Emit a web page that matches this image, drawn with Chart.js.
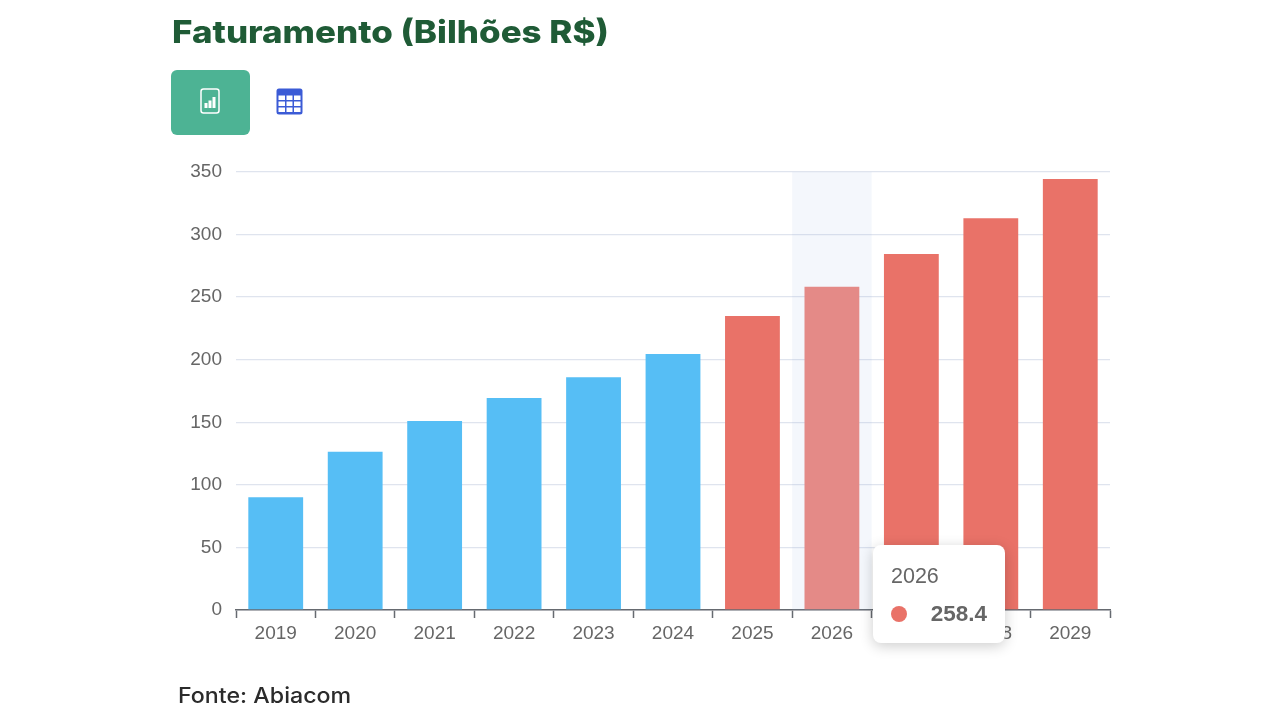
<!DOCTYPE html>
<html lang="pt">
<head>
<meta charset="utf-8">
<title>Faturamento (Bilhões R$)</title>
<script src="https://cdn.jsdelivr.net/npm/chart.js@4/dist/chart.umd.min.js"></script>
<style>
html,body{margin:0;padding:0;background:#fff;width:1280px;height:720px;overflow:hidden}
#wrap{position:relative;width:1280px;height:720px}
canvas{position:absolute;left:0;top:0}
#title{position:absolute;left:172px;top:12px;font:800 31.5px/40px Inter,sans-serif;color:#1f5b36;white-space:nowrap;transform-origin:0 50%;transform:scaleX(1.109)}
#btn{position:absolute;left:171px;top:70px;width:79px;height:65px;border-radius:6px;background:#4db394}
#btn svg{position:absolute;left:28px;top:18px}
#tbl{position:absolute;left:276px;top:88px}
#src{position:absolute;left:178px;top:682px;font:500 21px/28px Inter,sans-serif;color:#2b2b2b;white-space:nowrap;transform-origin:0 50%;transform:scaleX(1.105)}
#tip{position:absolute;background:#fff;border-radius:8px;box-shadow:0 3px 14px rgba(0,0,0,.2);width:132px;height:98px;font-family:"Liberation Sans",sans-serif;color:#666}
#tip .h{position:absolute;left:18px;top:18px;font-size:21.5px;line-height:26px}
#tip .d{position:absolute;left:18px;top:61px;width:16px;height:16px;border-radius:50%}
#tip .v{position:absolute;right:18px;top:56px;font-size:22.5px;line-height:26px;font-weight:700}
</style>
</head>
<body>
<div id="wrap">
  <canvas id="c" width="1280" height="720"></canvas>
  <div id="title">Faturamento (Bilhões R$)</div>
  <div id="btn"><svg width="22" height="26" viewBox="0 0 22 26" fill="none">
    <rect x="2" y="1" width="18" height="24" rx="2.5" stroke="#fff" stroke-width="1.5"/>
    <rect x="5.5" y="15" width="3" height="5" fill="#fff"/><rect x="9.5" y="12.5" width="3" height="7.5" fill="#fff"/><rect x="13.5" y="9" width="3" height="11" fill="#fff"/>
  </svg></div>
  <svg id="tbl" width="27" height="27" viewBox="0 0 27 27">
    <rect x="0.5" y="0.5" width="26" height="26" rx="2.5" fill="#3b5bd6"/>
    <g fill="#fff"><rect x="2.5" y="7.5" width="6.5" height="4.5"/><rect x="10.5" y="7.5" width="6" height="4.5"/><rect x="18" y="7.5" width="6.5" height="4.5"/>
    <rect x="2.5" y="13.5" width="6.5" height="4.5"/><rect x="10.5" y="13.5" width="6" height="4.5"/><rect x="18" y="13.5" width="6.5" height="4.5"/>
    <rect x="2.5" y="19.5" width="6.5" height="4.5"/><rect x="10.5" y="19.5" width="6" height="4.5"/><rect x="18" y="19.5" width="6.5" height="4.5"/></g>
  </svg>
  <div id="src">Fonte: Abiacom</div>
  <div id="tip" style="display:none"><div class="h"></div><div class="d"></div><div class="v"></div></div>
</div>
<script>
const categories = ['2019','2020','2021','2022','2023','2024','2025','2026','2027','2028','2029'];
const faturamento = [90, 126.5, 151, 169.5, 186, 204.5, 235, 258.4, 284.5, 313, 344.5];
const lastHistoricYear = '2024';
const activeYear = '2026';

const BLUE = '#56bef5', RED = '#e97268', RED_HOVER = '#e48a87';
const splitIndex = categories.indexOf(lastHistoricYear);
const activeIndex = categories.indexOf(activeYear);

const bandPlugin = {
  id: 'band',
  beforeDatasetsDraw(chart) {
    const x = chart.scales.x, a = chart.chartArea;
    const step = x.getPixelForValue(1) - x.getPixelForValue(0);
    const cx = x.getPixelForValue(activeIndex);
    const ctx = chart.ctx;
    ctx.save();
    ctx.fillStyle = 'rgba(150,177,228,0.10)';
    ctx.fillRect(cx - step / 2, a.top, step, a.bottom - a.top);
    ctx.restore();
  }
};

function externalTip(context) {
  const t = context.tooltip, el = document.getElementById('tip');
  if (!t.dataPoints || !t.dataPoints.length) return;
  const p = t.dataPoints[0];
  el.style.display = 'block';
  el.style.left = '873px';
  el.style.top = '545px';
  el.querySelector('.h').textContent = p.label;
  el.querySelector('.v').textContent = String(p.raw);
  el.querySelector('.d').style.background = RED;
}

const chart = new Chart(document.getElementById('c'), {
  type: 'bar',
  data: {
    labels: categories,
    datasets: [{
      data: faturamento,
      backgroundColor: categories.map((c, i) => i === activeIndex ? RED_HOVER : (i <= splitIndex ? BLUE : RED)),
      hoverBackgroundColor: categories.map((c, i) => i === activeIndex ? RED_HOVER : (i <= splitIndex ? BLUE : RED)),
      barPercentage: 0.69,
      categoryPercentage: 1
    }]
  },
  options: {
    responsive: false,
    animation: false,
    events: [],
    layout: { padding: { left: 0, top: 172, right: 170, bottom: 0 } },
    plugins: {
      legend: { display: false },
      title: { display: false },
      tooltip: { enabled: false, external: externalTip }
    },
    scales: {
      x: {
        afterFit(s) { s.height = 110; },
        grid: { display: true, drawOnChartArea: false, drawTicks: true, tickLength: 8, tickWidth: 1.5, color: '#666a70', offset: true },
        border: { display: true, color: '#666a70', width: 1.5 },
        ticks: { color: '#666', padding: 4, maxRotation: 0, autoSkip: false, font: { family: '"Liberation Sans"', size: 19 } }
      },
      y: {
        min: 0, max: 350,
        afterFit(s) { s.width = 236; },
        grid: { color: '#dfe4ee', lineWidth: 1.3, drawTicks: false },
        border: { display: false },
        ticks: { stepSize: 50, color: '#666', padding: 14, font: { family: '"Liberation Sans"', size: 19 } }
      }
    }
  },
  plugins: [bandPlugin]
});
chart.tooltip.setActiveElements([{ datasetIndex: 0, index: activeIndex }], { x: 0, y: 0 });
chart.update();
</script>
</body>
</html>
